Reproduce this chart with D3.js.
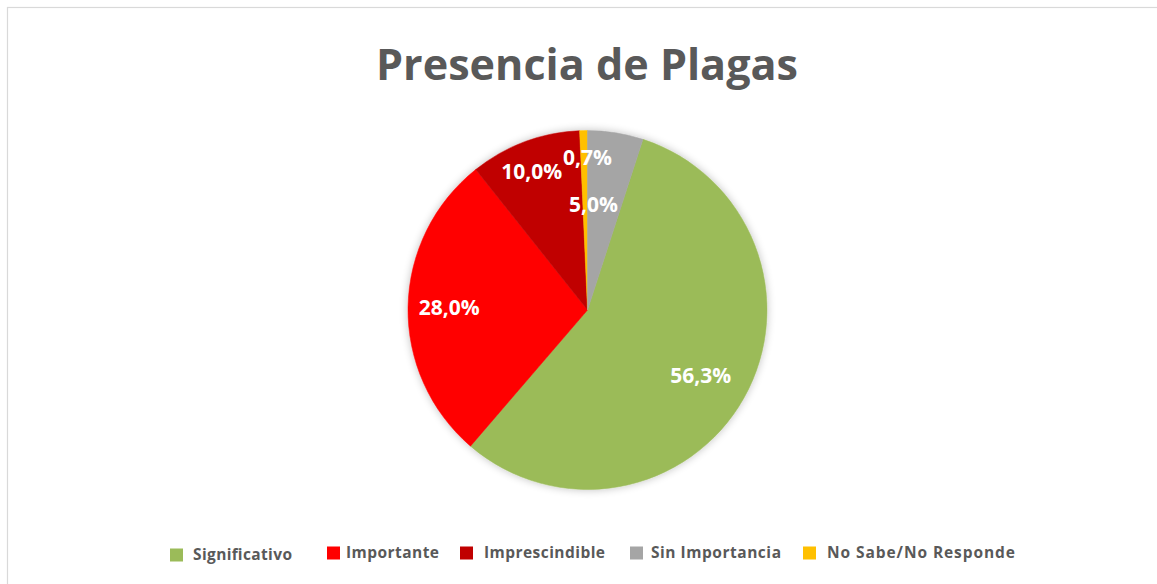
<!DOCTYPE html>
<html>
<head>
<meta charset="utf-8">
<script src="https://cdn.jsdelivr.net/npm/d3@7"></script>
<style>
  html, body { margin: 0; padding: 0; background: #fff; }
  svg { display: block; }
</style>
</head>
<body>
<svg id="chart" width="1157" height="584"></svg>
<script>
// Survey answers: presence of pests
const categories = ["Significativo", "Importante", "Imprescindible", "Sin Importancia", "No Sabe/No Responde"];
const values = [56.3, 28.0, 10.0, 5.0, 0.7];
const colors = ["#9BBB59", "#FF0000", "#C00000", "#A5A5A5", "#FFC000"];
const title = "Presencia de Plagas";

// Clockwise drawing order of the slices (indices into categories)
const drawOrder = [0, 1, 2, 4, 3];

const W = 1157, H = 584;
const svg = d3.select("#chart");
const font = "'Open Sans', 'Noto Sans', sans-serif";

// chart frame
svg.append("rect")
  .attr("x", 7.5).attr("y", 7.5)
  .attr("width", W + 10).attr("height", H + 10)
  .attr("fill", "#fff").attr("stroke", "#d9d9d9").attr("stroke-width", 1.2);

const defs = svg.append("defs");
const shadow = defs.append("filter").attr("id", "soft").attr("x", "-20%").attr("y", "-20%").attr("width", "140%").attr("height", "140%");
shadow.append("feGaussianBlur").attr("in", "SourceAlpha").attr("stdDeviation", 4).attr("result", "b");
shadow.append("feComponentTransfer").attr("in", "b").attr("result", "s")
  .append("feFuncA").attr("type", "linear").attr("slope", 0.25);
const m = shadow.append("feMerge");
m.append("feMergeNode").attr("in", "s");
m.append("feMergeNode").attr("in", "SourceGraphic");

// title, fitted to its width
const titleText = svg.append("text")
  .attr("x", 587).attr("y", 80)
  .attr("text-anchor", "middle")
  .attr("font-family", font)
  .attr("font-weight", 700)
  .attr("font-size", 46)
  .attr("fill", "#595959")
  .text(title);
const tw = titleText.node().getComputedTextLength();
titleText.attr("font-size", 46 * 422 / tw);

// pie
const cx = 587.5, cy = 310, R = 179.5;
const total = d3.sum(values);
const rows = drawOrder.map(i => ({ name: categories[i], value: values[i], color: colors[i], idx: i }));
const lastFrac = rows[rows.length - 1].value / total;
const pie = d3.pie().sort(null).value(d => d.value)
  .startAngle(2 * Math.PI * lastFrac)
  .endAngle(2 * Math.PI * (1 + lastFrac));
const arcs = pie(rows);
const arc = d3.arc().innerRadius(0).outerRadius(R);

const g = svg.append("g").attr("transform", `translate(${cx},${cy})`);
g.append("g").attr("filter", "url(#soft)")
  .selectAll("path").data(arcs).join("path")
  .attr("d", arc)
  .attr("fill", d => d.data.color)
  .attr("stroke", d => d.data.color)
  .attr("stroke-width", 0.5);

// label placement per slice: [angle shift (deg), radius fraction]
const labelPlace = {
  "Significativo": [0.8, 0.73],
  "Importante": [0, 0.77],
  "Imprescindible": [-1.5, 0.83],
  "No Sabe/No Responde": [1.2, 0.85],
  "Sin Importancia": [-5.8, 0.59]
};
const fmt = v => d3.format(".1f")(v).replace(".", ",") + "%";
g.selectAll("text.lbl").data(arcs).join("text")
  .attr("class", "lbl")
  .attr("transform", d => {
    const [shift, f] = labelPlace[d.data.name];
    const a = (d.startAngle + d.endAngle) / 2 + shift * Math.PI / 180;
    return `translate(${Math.sin(a) * R * f},${-Math.cos(a) * R * f})`;
  })
  .attr("text-anchor", "middle")
  .attr("dy", "0.35em")
  .attr("font-family", font)
  .attr("font-weight", 700)
  .attr("font-size", 21)
  .attr("fill", "#fff")
  .text(d => fmt(d.data.value));

// legend: swatch x, text offset from swatch, text width
const legendX = [170, 327, 460, 630, 803];
const legendTextDx = [23, 19, 24, 21, 24];
const legendTextW = [99, 93, 121, 130, 188];
const leg = svg.append("g");
categories.forEach((c, i) => {
  const gi = leg.append("g").attr("transform", `translate(${legendX[i]},${i === 0 ? 555 : 553})`);
  gi.append("rect").attr("x", 0).attr("y", -6.5).attr("width", 13).attr("height", 13).attr("fill", colors[i]);
  gi.append("text")
    .attr("x", legendTextDx[i]).attr("y", 0).attr("dy", "0.35em")
    .attr("font-family", font).attr("font-weight", 700).attr("font-size", 15.5)
    .attr("textLength", legendTextW[i]).attr("lengthAdjust", "spacing")
    .attr("fill", "#595959")
    .text(c);
});
</script>
</body>
</html>
